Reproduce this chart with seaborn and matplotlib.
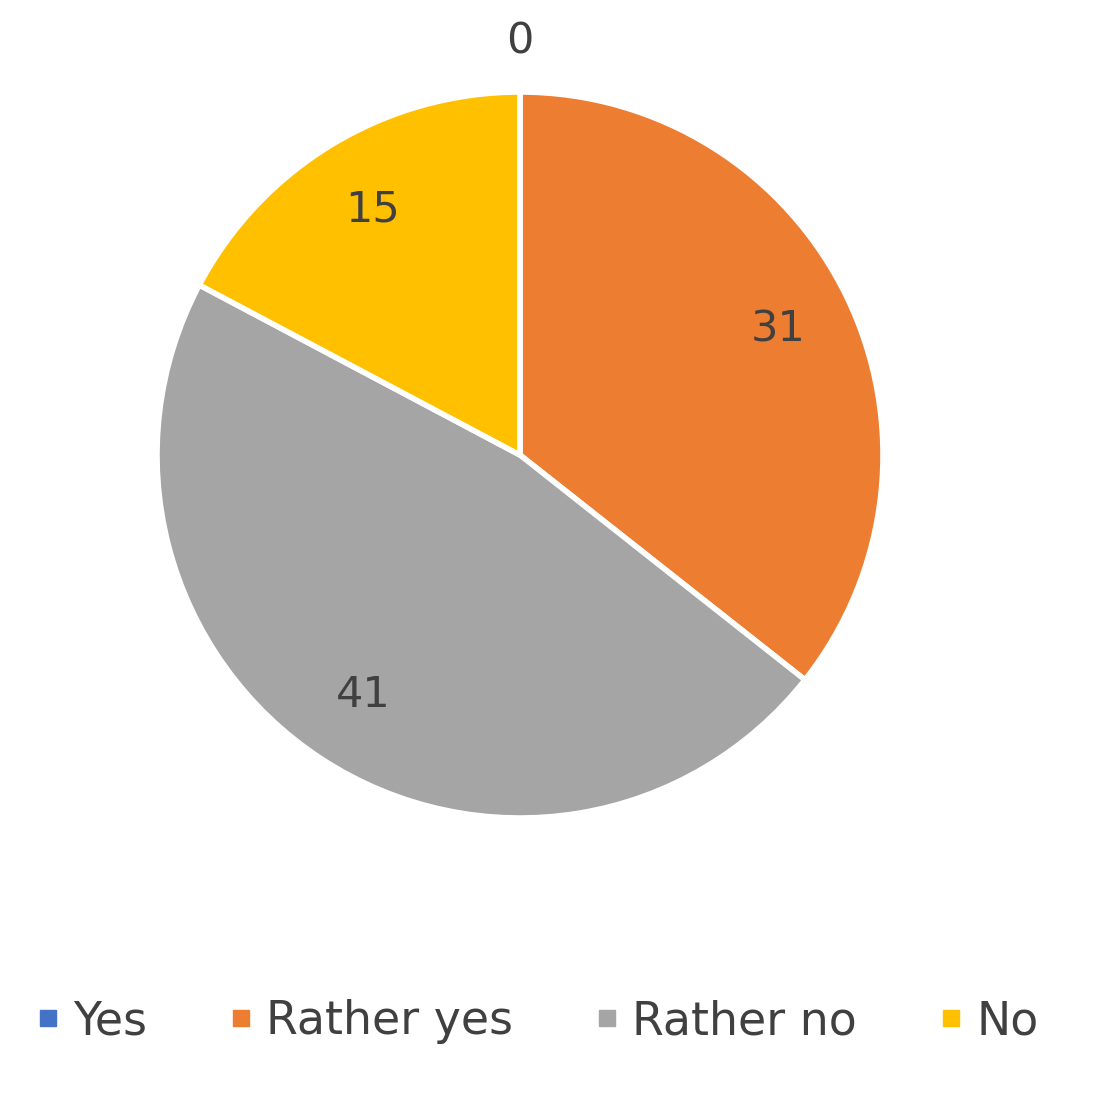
import seaborn as sns
import matplotlib.pyplot as plt
from matplotlib.lines import Line2D
import numpy as np

categories = ["Yes", "Rather yes", "Rather no", "No"]
values = [0, 31, 41, 15]
colors = ["#4472C4", "#ED7D31", "#A5A5A5", "#FFC000"]

sns.set_style("white")
plt.rcParams['font.family'] = ['DejaVu Sans']
text_color = "#404040"

fig = plt.figure(figsize=(10.94, 10.94), dpi=100)
# pie centre ~ (520, 455) px, radius ~ 363 px
cx, cy, r = 520 / 1094, 1 - 455 / 1094, 363 / 1094
ax = fig.add_axes([cx - r, cy - r, 2 * r, 2 * r])

wedges, _ = ax.pie(values, colors=colors, startangle=90, counterclock=False,
                   radius=1, wedgeprops=dict(edgecolor="white", linewidth=4))
ax.set_xlim(-1, 1)
ax.set_ylim(-1, 1)
ax.set_aspect("equal")
ax.axis("off")

# value labels
for w, v in zip(wedges, values):
    ang = np.deg2rad((w.theta1 + w.theta2) / 2)
    d = 1.14 if v == 0 else 0.79
    ax.text(d * np.cos(ang), d * np.sin(ang), str(v), ha="center", va="center",
            fontsize=31, color=text_color, clip_on=False)

handles = [Line2D([], [], marker="s", linestyle="", markersize=11,
                  markerfacecolor=c, markeredgecolor=c) for c in colors]
fig.legend(handles, categories, loc="center", bbox_to_anchor=(0.49, 0.066),
           ncol=4, frameon=False, fontsize=33, labelcolor=text_color,
           handletextpad=0.25, columnspacing=1.75, handlelength=0.6)

fig.savefig("out.png", dpi=100)
